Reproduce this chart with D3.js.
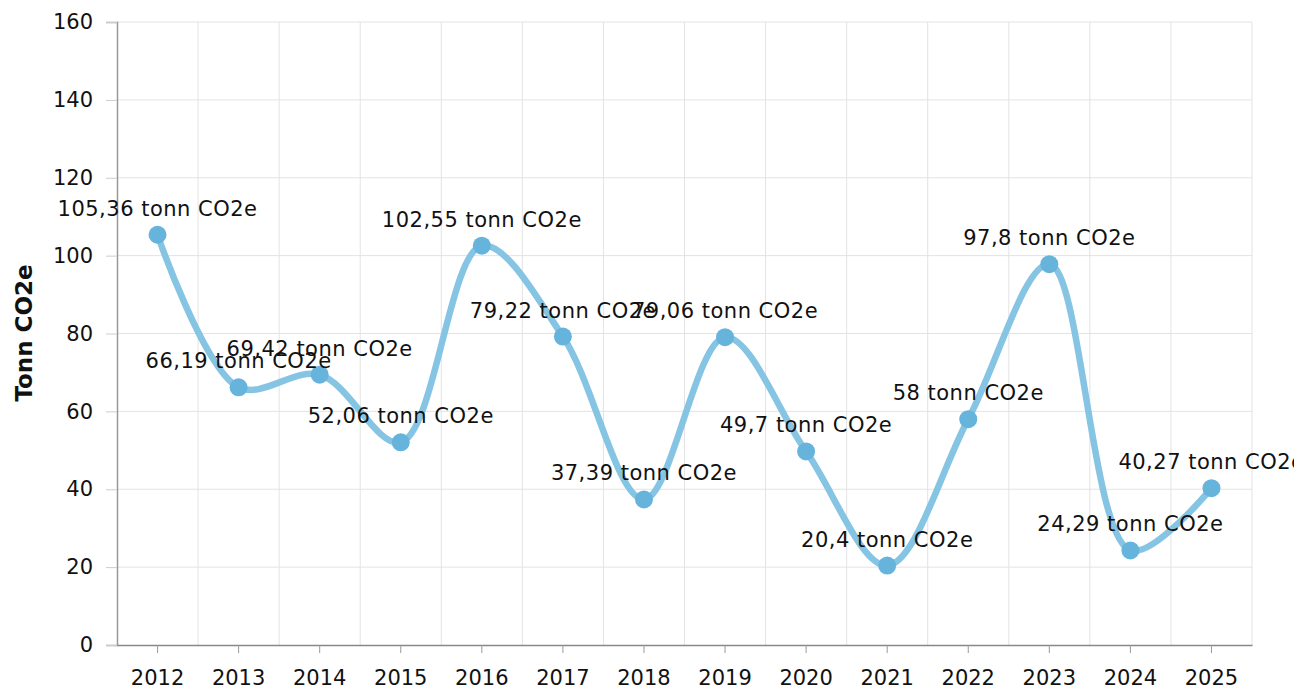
<!DOCTYPE html>
<html>
<head>
<meta charset="utf-8">
<script src="https://cdn.jsdelivr.net/npm/d3@7"></script>
<style>
  body { margin: 0; background: #fff; }
  svg { display: block; }
  svg text { font-family: "DejaVu Sans", Verdana, sans-serif; }
</style>
</head>
<body>
<div id="chart"></div>
<script>
// data
const years = ["2012", "2013", "2014", "2015", "2016", "2017", "2018", "2019", "2020", "2021", "2022", "2023", "2024", "2025"];
const values = [105.36, 66.19, 69.42, 52.06, 102.55, 79.22, 37.39, 79.06, 49.7, 20.4, 58, 97.8, 24.29, 40.27];
const labels = ["105,36", "66,19", "69,42", "52,06", "102,55", "79,22", "37,39", "79,06", "49,7", "20,4", "58", "97,8", "24,29", "40,27"];
const yTicks = [0, 20, 40, 60, 80, 100, 120, 140, 160];

const width = 1294, height = 691;
const margin = { top: 22, right: 42, bottom: 46, left: 117 };

const svg = d3.select("#chart").append("svg")
    .attr("width", width)
    .attr("height", height);

const x = d3.scaleBand()
    .domain(years)
    .range([margin.left, width - margin.right]);

const y = d3.scaleLinear()
    .domain([0, 160])
    .range([height - margin.bottom, margin.top]);

const cx = d => x(d) + x.bandwidth() / 2;

// horizontal grid
svg.append("g")
    .selectAll("line")
    .data(yTicks.filter(d => d > 0))
    .join("line")
    .attr("x1", margin.left)
    .attr("x2", width - margin.right)
    .attr("y1", d => y(d))
    .attr("y2", d => y(d))
    .attr("stroke", "#e3e3e3")
    .attr("stroke-width", 1);

// vertical grid on category boundaries
svg.append("g")
    .selectAll("line")
    .data(years)
    .join("line")
    .attr("x1", d => x(d) + x.step())
    .attr("x2", d => x(d) + x.step())
    .attr("y1", margin.top)
    .attr("y2", height - margin.bottom)
    .attr("stroke", "#e3e3e3");

// y axis
const yAxis = svg.append("g")
    .attr("transform", `translate(${margin.left},0)`)
    .call(d3.axisLeft(y).tickValues(yTicks).tickSize(11).tickPadding(13));
yAxis.attr("font-family", null);
yAxis.select(".domain").attr("stroke", "#999").attr("stroke-width", 1.5);
yAxis.selectAll(".tick line").attr("stroke", "#ccc");
yAxis.selectAll("text").attr("fill", "#111").style("font-size", "21px");

// x axis
const xAxis = svg.append("g")
    .attr("transform", `translate(0,${height - margin.bottom})`)
    .call(d3.axisBottom(x).tickSize(8).tickPadding(17).tickSizeOuter(0));
xAxis.attr("font-family", null);
xAxis.select(".domain").attr("stroke", "#888").attr("stroke-width", 1.5);
xAxis.selectAll(".tick line").attr("stroke", "#999");
xAxis.selectAll("text").attr("fill", "#111").style("font-size", "21px");

// y axis title
svg.append("text")
    .attr("transform", "rotate(-90)")
    .attr("x", -333)
    .attr("y", 32)
    .attr("text-anchor", "middle")
    .attr("font-weight", "bold")
    .attr("font-size", "23px")
    .attr("fill", "#111")
    .text("Tonn CO2e");

const pts = years.map((d, i) => ({ year: d, value: values[i], label: labels[i] }));

const line = d3.line()
    .x(d => cx(d.year))
    .y(d => y(d.value))
    .curve(d3.curveCatmullRom.alpha(0.5));

svg.append("path")
    .datum(pts)
    .attr("fill", "none")
    .attr("stroke", "#86c4e3")
    .attr("stroke-width", 6.5)
    .attr("d", line);

svg.selectAll("circle.pt")
    .data(pts)
    .join("circle")
    .attr("class", "pt")
    .attr("cx", d => cx(d.year))
    .attr("cy", d => y(d.value))
    .attr("r", 9)
    .attr("fill", "#66b4dc");

svg.selectAll("text.lbl")
    .data(pts)
    .join("text")
    .attr("class", "lbl")
    .attr("x", d => cx(d.year))
    .attr("y", d => y(d.value) - 19)
    .attr("text-anchor", "middle")
    .attr("font-size", "21px")
    .attr("letter-spacing", "0.5px")
    .attr("fill", "#111")
    .text(d => `${d.label} tonn CO2e`);
</script>
</body>
</html>
